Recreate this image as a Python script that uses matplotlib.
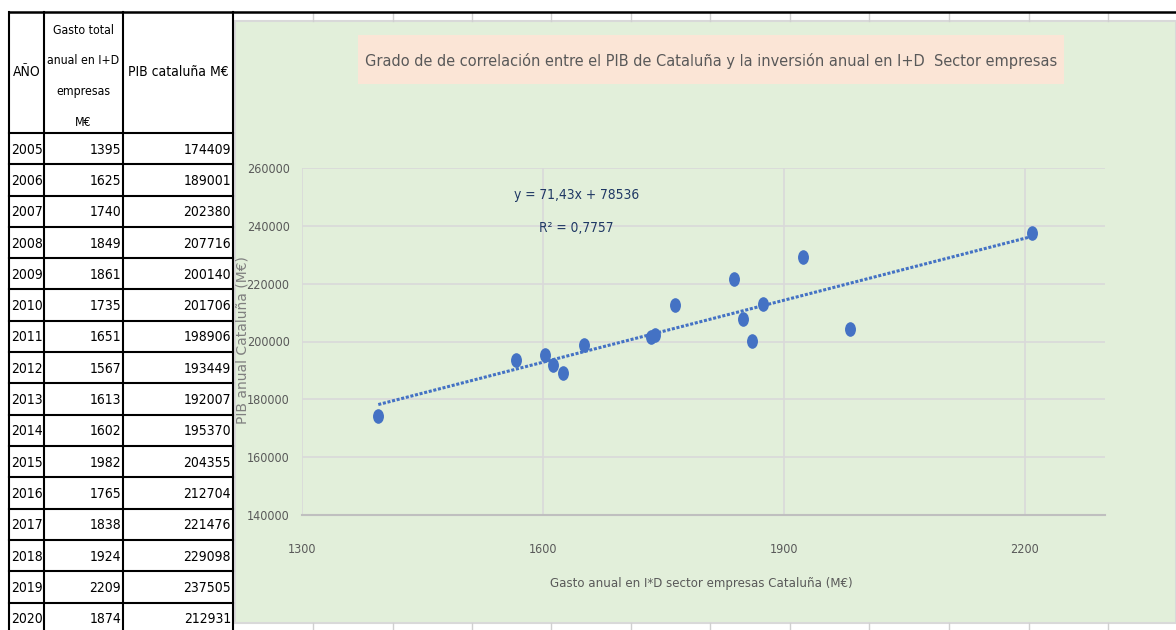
import matplotlib
matplotlib.use('Agg')
import matplotlib.pyplot as plt
import matplotlib.font_manager as fm
from matplotlib.patches import Rectangle
from matplotlib.lines import Line2D
from matplotlib.path import Path
import numpy as np

# data (table + scatter)
years = [2005, 2006, 2007, 2008, 2009, 2010, 2011, 2012,
         2013, 2014, 2015, 2016, 2017, 2018, 2019, 2020]
gasto = [1395, 1625, 1740, 1849, 1861, 1735, 1651, 1567,
         1613, 1602, 1982, 1765, 1838, 1924, 2209, 1874]
pib = [174409, 189001, 202380, 207716, 200140, 201706, 198906, 193449,
       192007, 195370, 204355, 212704, 221476, 229098, 237505, 212931]

x_ticks = [1300, 1600, 1900, 2200]
y_ticks = [140000, 160000, 180000, 200000, 220000, 240000, 260000]

title = 'Grado de de correlación entre el PIB de Cataluña y la inversión anual en I+D  Sector empresas'
eq_text = 'y = 71,43x + 78536'
r2_text = 'R² = 0,7757'
xlabel = 'Gasto anual en I*D sector empresas Cataluña (M€)'
ylabel = 'PIB anual Cataluña (M€)'
head = ['AÑO', 'Gasto total\nanual en I+D\nempresas\nM€', 'PIB cataluña M€']

# look for a condensed sans font, else Liberation Sans
def is_regular(f):
    return f.style == 'normal' and f.weight in (400, 'normal', 'regular')

cands = [f for f in fm.fontManager.ttflist
         if is_regular(f) and 'mono' not in f.name.lower() and 'serif' not in f.name.lower()
         and ('condensed' in str(f.stretch).lower() or 'narrow' in f.name.lower()
              or 'condensed' in f.name.lower() or 'narrow' in f.fname.lower()
              or 'condensed' in f.fname.lower())]
cands.sort(key=lambda f: (0 if 'Liberation' in f.name else 1 if 'DejaVu' in f.name else 2))
if cands:
    font_path = cands[0].fname
else:
    font_path = fm.findfont(fm.FontProperties(family='Liberation Sans'))

def fp(size):
    return fm.FontProperties(fname=font_path, size=size)

W, H = 1176, 630
fig = plt.figure(figsize=(W / 100, H / 100), dpi=100)
fig.patch.set_facecolor('white')
renderer = fig.canvas.get_renderer()

def fx(x):
    return x / W

def fy(y):
    return 1 - y / H

def line(xs, ys, **kw):
    fig.add_artist(Line2D([fx(v) for v in xs], [fy(v) for v in ys],
                          transform=fig.transFigure, **kw))

def fit_size(s, target_w, max_size):
    t = fig.text(0, 0, s, fontproperties=fp(max_size))
    w = t.get_window_extent(renderer).width
    t.remove()
    return max_size if w <= target_w else max_size * target_w / w

def ftext(x, y, s, size, **kw):
    return fig.text(fx(x), fy(y), s, fontproperties=fp(size), **kw)

# spreadsheet cell lines behind the chart
cell_x = [313, 393, 472, 551, 631, 710, 790, 869, 949, 1029, 1108]
for cx in cell_x:
    line([cx, cx], [12, 21], color='#D0D0D0', lw=1)
    line([cx, cx], [623, 630], color='#D0D0D0', lw=1)

# chart area
fig.add_artist(Rectangle((fx(235), fy(623)), (1176 - 235) / W, (623 - 21) / H,
                         transform=fig.transFigure, fc='#E2EFDA', ec='#D9D9D9',
                         lw=1.5, zorder=-2))
fig.add_artist(Rectangle((fx(358), fy(84)), (1064 - 358) / W, (84 - 35) / H,
                         transform=fig.transFigure, fc='#FBE5D6', ec='none',
                         zorder=-1))
ftext(711, 61, title, fit_size(title, 694, 13.5), ha='center', va='center',
      color='#595959')

# table
line([9, 1176], [12, 12], color='black', lw=1.8)
row_h = 31.3
top_row = 133
for k in range(len(years) + 1):
    yy = top_row + k * row_h
    line([9, 233], [yy, yy], color='black', lw=1.5)
for cx in [9, 44, 123, 233]:
    line([cx, cx], [12, 630], color='black', lw=1.5)

tfs = min(10.5, fit_size('2005', 32, 10.5))
hfs = fit_size('anual en I+D', 73, tfs)
ftext(26.5, 72, head[0], fit_size(head[0], 32, tfs), ha='center', va='center')
for i, s in enumerate(head[1].split('\n')):
    ftext(83.5, 30 + i * 30.7, s, hfs, ha='center', va='center')
ftext(178, 72, head[2], fit_size(head[2], 104, tfs), ha='center', va='center')
for k, (yr, g, p) in enumerate(zip(years, gasto, pib)):
    yy = top_row + k * row_h + row_h / 2 + 1
    ftext(11, yy, str(yr), tfs, ha='left', va='center')
    ftext(121, yy, str(g), tfs, ha='right', va='center')
    ftext(231, yy, str(p), tfs, ha='right', va='center')

# scatter plot
ax = fig.add_axes([fx(302), fy(515), (1105 - 302) / W, (515 - 168) / H])
ax.set_facecolor('none')
ax.set_xlim(1300, 2300)
ax.set_ylim(140000, 260000)
ax.set_xticks(x_ticks)
ax.set_yticks(y_ticks)
ax.grid(True, color='#D9D9D9', lw=1.2)
ax.set_axisbelow(True)
for s in ['top', 'right', 'left']:
    ax.spines[s].set_visible(False)
ax.spines['bottom'].set_color('#BFBFBF')
ax.spines['bottom'].set_linewidth(1.5)
ax.tick_params(length=0, labelcolor='#595959')
ax.tick_params(axis='x', pad=20)
ax.tick_params(axis='y', pad=9)
tick_fs = fit_size('260000', 43, 10)
for lab in ax.get_xticklabels() + ax.get_yticklabels():
    lab.set_fontproperties(fp(tick_fs))

circ = Path.unit_circle()
ell = Path(circ.vertices * [0.72, 1.0], circ.codes)
ax.plot(gasto, pib, ls='none', marker=ell, ms=9.5, color='#4472C4', zorder=4)

slope, icpt = np.polyfit(gasto, pib, 1)
xs = np.array([min(gasto), max(gasto)])
ax.plot(xs, slope * xs + icpt, color='#4472C4', lw=2.2,
        ls=(0, (1, 0.55)), dash_capstyle='butt', zorder=3)

eq_fs = fit_size(eq_text, 125, 12)
ftext(577, 195, eq_text, eq_fs, ha='center', va='center', color='#1F3864')
ftext(576, 228, r2_text, eq_fs, ha='center', va='center', color='#1F3864')

ftext(701, 583, xlabel, fit_size(xlabel, 300, 11), ha='center', va='center',
      color='#595959')
fig.text(fx(242), fy(340), ylabel, ha='center', va='center', fontsize=10,
         color='#7F7F7F', rotation=90, family='DejaVu Sans')

fig.savefig('out.png', dpi=100)
